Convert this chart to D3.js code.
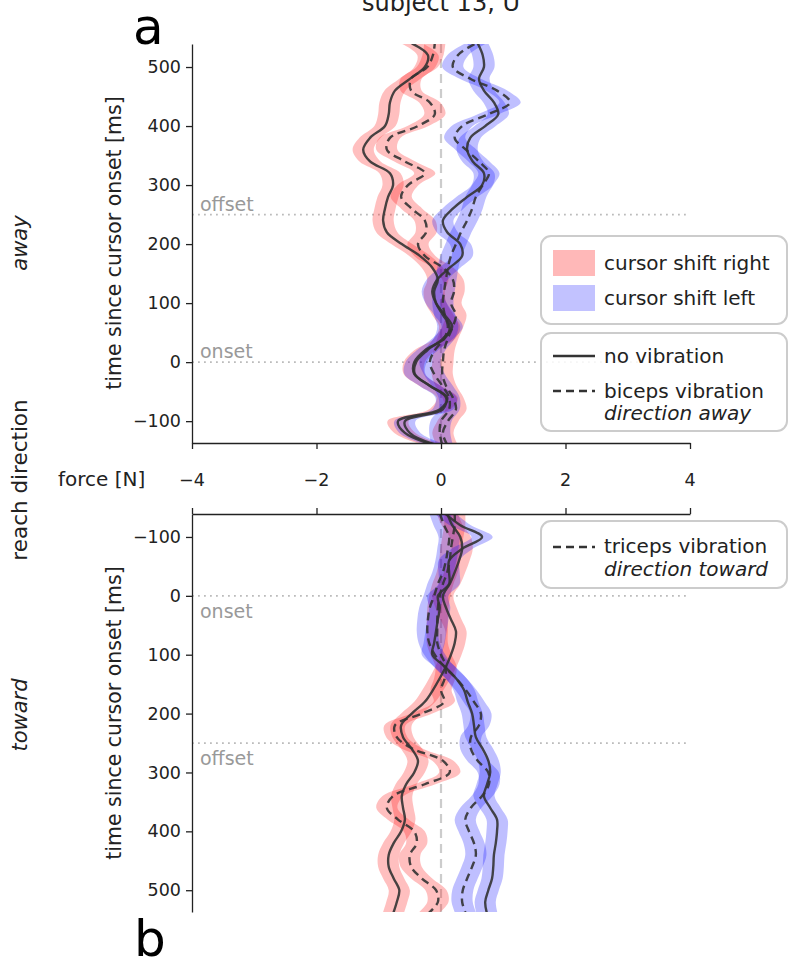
<!DOCTYPE html>
<html><head><meta charset="utf-8">
<script src="https://cdn.jsdelivr.net/npm/d3@7"></script>
<style>
body{margin:0;background:#fff}
svg{display:block}
text{font-family:"DejaVu Sans",sans-serif;fill:#222}
</style>
</head><body>
<svg id="chart" width="789" height="962"></svg>
<script>
// ---------- data ----------
const times = [-140,-120,-100,-80,-60,-40,-20,0,20,40,60,80,100,120,140,160,180,200,220,240,260,280,300,320,340,360,380,400,420,440,460,480,500,520,540];

// (a) reach direction away
const awayRightNoVib = [-0.13,-0.58,-0.69,-0.02,0.10,-0.18,-0.43,-0.43,-0.26,0.06,0.14,0.03,-0.08,-0.11,-0.05,-0.14,-0.34,-0.63,-0.87,-0.93,-0.90,-0.85,-0.77,-0.82,-1.14,-1.25,-1.14,-0.90,-0.84,-0.82,-0.74,-0.50,-0.26,-0.21,-0.47];
const awayRightVib   = [0.10,0.03,0.11,0.24,0.19,0.08,0.02,0.03,0.05,0.11,0.19,0.24,0.16,0.21,0.19,0.03,-0.26,-0.37,-0.24,-0.26,-0.47,-0.64,-0.53,-0.26,-0.58,-0.87,-0.82,-0.37,-0.10,-0.18,-0.48,-0.48,-0.22,-0.13,-0.10];
const awayLeftNoVib  = [-0.08,-0.50,-0.58,0.03,0.08,-0.18,-0.42,-0.40,-0.22,0.03,0.18,0.06,-0.08,-0.14,-0.06,0.14,0.34,0.31,0.10,0.03,0.19,0.42,0.66,0.69,0.51,0.42,0.47,0.71,0.92,0.85,0.69,0.61,0.69,0.67,0.59];
const awayLeftVib    = [0.02,-0.02,0.00,0.13,0.13,0.02,-0.11,-0.18,-0.10,0.05,0.11,0.06,0.03,0.05,0.08,0.11,0.16,0.24,0.32,0.42,0.50,0.56,0.67,0.77,0.61,0.40,0.22,0.34,0.76,1.11,0.90,0.47,0.19,0.27,0.56];

// (b) reach direction toward
const towardRightNoVib = [0.10,0.18,0.31,0.34,0.29,0.22,0.14,0.03,0.08,0.16,0.24,0.22,0.16,0.08,-0.02,-0.13,-0.26,-0.47,-0.64,-0.61,-0.47,-0.37,-0.43,-0.56,-0.63,-0.61,-0.58,-0.64,-0.76,-0.84,-0.84,-0.76,-0.67,-0.71,-0.77];
const towardRightVib   = [0.22,0.22,0.19,0.16,0.14,0.10,0.03,-0.02,-0.05,-0.06,-0.06,-0.06,0.00,0.08,0.06,0.00,0.05,-0.31,-0.74,-0.71,-0.45,0.03,0.14,-0.26,-0.77,-0.87,-0.69,-0.43,-0.39,-0.50,-0.48,-0.31,-0.08,-0.05,-0.21];
const towardLeftNoVib  = [0.06,0.31,0.66,0.34,0.13,0.13,0.13,-0.05,-0.02,-0.05,-0.08,-0.11,-0.14,0.06,0.24,0.37,0.43,0.50,0.53,0.56,0.67,0.76,0.79,0.74,0.69,0.79,0.90,0.90,0.88,0.85,0.84,0.82,0.76,0.71,0.74];
const towardLeftVib    = [-0.02,0.05,0.13,0.11,0.08,0.03,-0.05,-0.11,-0.18,-0.21,-0.22,-0.19,-0.10,0.05,0.24,0.40,0.53,0.64,0.61,0.48,0.48,0.59,0.76,0.77,0.66,0.48,0.39,0.45,0.53,0.56,0.50,0.42,0.35,0.34,0.40];

const ciHalfWidth = 0.17;          // confidence band half width [N]
const forceTicks = [-4,-2,0,2,4];
const timeTicks = [-100,0,100,200,300,400,500];
const onsetTime = 0, offsetTime = 250;

// ---------- layout ----------
const svg = d3.select('#chart');
const x = d3.scaleLinear().domain([-4,4]).range([192,690]);
const yTop = d3.scaleLinear().domain([-137,539]).range([443,44]);
const yBot = d3.scaleLinear().domain([-139,537]).range([514,912]);
const fmt = d => d < 0 ? '\u2212' + Math.abs(d) : String(d);

const RED = '#ff0000', BLUE = '#0000ff', LINE = '#333333';

function panel(id, y, series, labelSide){
  const g = svg.append('g');
  const [y0,y1] = y.range();
  const top = Math.min(y0,y1), bot = Math.max(y0,y1);
  svg.append('clipPath').attr('id','clip'+id).append('rect')
     .attr('x',x.range()[0]).attr('y',top).attr('width',x.range()[1]-x.range()[0]).attr('height',bot-top);
  // reference lines
  g.append('line').attr('x1',x(0)).attr('x2',x(0)).attr('y1',top).attr('y2',bot)
    .attr('stroke','#cccccc').attr('stroke-width',2.2).attr('stroke-dasharray','9,6');
  [onsetTime, offsetTime].forEach(t=>{
    g.append('line').attr('x1',x.range()[0]).attr('x2',x.range()[1]).attr('y1',y(t)).attr('y2',y(t))
      .attr('stroke','#bbbbbb').attr('stroke-width',1.8).attr('stroke-dasharray','1.8,4.2');
  });
  const lblOff = labelSide === 'above' ? -4 : 22;
  g.append('text').attr('x',200).attr('y',y(onsetTime)+lblOff).text('onset')
    .style('fill','#999').style('font-size','19px');
  g.append('text').attr('x',200).attr('y',y(offsetTime)+lblOff).text('offset')
    .style('fill','#999').style('font-size','19px');

  const data = d => times.map((t,i)=>({t, f:d[i]}));
  const area = d3.area().curve(d3.curveCatmullRom)
      .y(p=>y(p.t)).x0(p=>x(p.f-ciHalfWidth)).x1(p=>x(p.f+ciHalfWidth));
  const line = d3.line().curve(d3.curveCatmullRom).x(p=>x(p.f)).y(p=>y(p.t));
  const cg = g.append('g').attr('clip-path',`url(#clip${id})`);
  series.forEach(s=>{
    cg.append('path').attr('d',area(data(s.values))).attr('fill',s.color).attr('fill-opacity',0.25);
  });
  series.forEach(s=>{
    cg.append('path').attr('d',line(data(s.values))).attr('fill','none')
      .attr('stroke',LINE).attr('stroke-width',2.4).attr('stroke-opacity',0.9)
      .attr('stroke-dasharray', s.dashed ? '8,5' : null);
  });

  // left axis
  const ax = g.append('g').attr('transform',`translate(${x.range()[0]},0)`)
    .call(d3.axisLeft(y).tickValues(timeTicks).tickFormat(fmt).tickSize(6).tickSizeOuter(0).tickPadding(5));
  ax.selectAll('text').style('font-size','17.5px').style('fill','#222').attr('font-family',null);
  ax.selectAll('line,path').attr('stroke','#222').attr('stroke-width',1.3);
  return g;
}

panel('a', yTop, [
  {values: awayRightNoVib, color: RED, dashed:false},
  {values: awayRightVib, color: RED, dashed:true},
  {values: awayLeftNoVib, color: BLUE, dashed:false},
  {values: awayLeftVib, color: BLUE, dashed:true}
], 'above');
panel('b', yBot, [
  {values: towardRightNoVib, color: RED, dashed:false},
  {values: towardRightVib, color: RED, dashed:true},
  {values: towardLeftNoVib, color: BLUE, dashed:false},
  {values: towardLeftVib, color: BLUE, dashed:true}
], 'below');

// x axes (bottom of panel a, top of panel b)
const xa = svg.append('g').attr('transform','translate(0,443)')
  .call(d3.axisBottom(x).tickValues(forceTicks).tickFormat('').tickSize(6).tickSizeOuter(0));
const xb = svg.append('g').attr('transform','translate(0,514)')
  .call(d3.axisTop(x).tickValues(forceTicks).tickFormat('').tickSize(6).tickSizeOuter(0));
[xa,xb].forEach(a=>a.selectAll('line,path').attr('stroke','#222').attr('stroke-width',1.3));
svg.append('g').selectAll('text').data(forceTicks).join('text')
  .attr('x',d=>x(d)).attr('y',486).attr('text-anchor','middle').style('font-size','17.5px').text(fmt);
svg.append('text').attr('x',58).attr('y',486).style('font-size','20px').text('force [N]');

// y labels
function vtext(cx, cy, txt, size, italic){
  svg.append('text').attr('transform',`translate(${cx},${cy}) rotate(-90)`)
    .attr('text-anchor','middle').style('font-size',size+'px')
    .style('font-style', italic ? 'italic' : 'normal').text(txt);
}
vtext(121, 243, 'time since cursor onset [ms]', 20.5);
vtext(121, 713, 'time since cursor onset [ms]', 20.5);
vtext(27, 243, 'away', 21, true);
vtext(27, 480, 'reach direction', 21.5);
vtext(27, 715, 'toward', 21, true);

// panel letters and title
svg.append('text').attr('x',133).attr('y',44).style('font-size','50px').style('fill','#000').text('a');
svg.append('text').attr('x',134).attr('y',956).style('font-size','50px').style('fill','#000').text('b');
svg.append('text').attr('x',441).attr('y',11).attr('text-anchor','middle').style('font-size','24px').text('subject 13, U');

// legends
function box(y, h){
  svg.append('rect').attr('x',541).attr('y',y).attr('width',246).attr('height',h)
    .attr('rx',10).attr('fill','#fff').attr('fill-opacity',0.85).attr('stroke','#cccccc').attr('stroke-width',2);
}
function ltext(y, txt, italic){
  svg.append('text').attr('x',604).attr('y',y).style('font-size','20px')
    .style('font-style', italic ? 'italic' : 'normal').text(txt);
}
box(236, 88);
svg.append('rect').attr('x',553).attr('y',250).attr('width',42).attr('height',26).attr('fill',RED).attr('fill-opacity',0.28);
svg.append('rect').attr('x',553).attr('y',285).attr('width',42).attr('height',26).attr('fill',BLUE).attr('fill-opacity',0.24);
ltext(270, 'cursor shift right');
ltext(305, 'cursor shift left');
box(333, 98);
svg.append('line').attr('x1',553).attr('x2',595).attr('y1',356).attr('y2',356).attr('stroke',LINE).attr('stroke-width',2.4);
svg.append('line').attr('x1',553).attr('x2',595).attr('y1',391).attr('y2',391).attr('stroke',LINE).attr('stroke-width',2.4).attr('stroke-dasharray','8,5');
ltext(363, 'no vibration');
ltext(398, 'biceps vibration');
ltext(420, 'direction away', true);
box(521, 67);
svg.append('line').attr('x1',553).attr('x2',595).attr('y1',547).attr('y2',547).attr('stroke',LINE).attr('stroke-width',2.4).attr('stroke-dasharray','8,5');
ltext(553, 'triceps vibration');
ltext(576, 'direction toward', true);
</script>
</body></html>
